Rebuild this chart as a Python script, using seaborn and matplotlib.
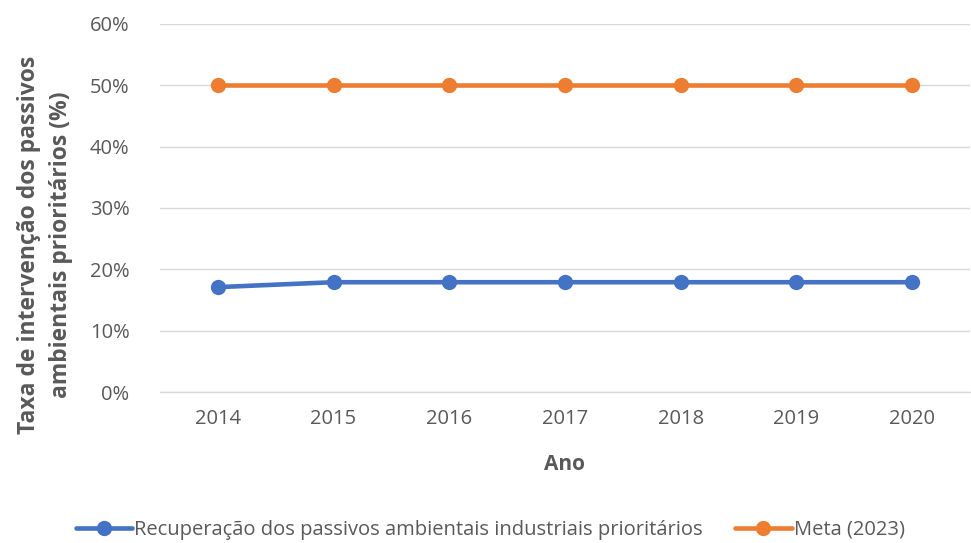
import matplotlib
matplotlib.use("Agg")
import matplotlib.pyplot as plt
import seaborn as sns
import pandas as pd
from matplotlib.ticker import FuncFormatter

anos = ["2014", "2015", "2016", "2017", "2018", "2019", "2020"]
recuperacao = [17.1, 17.9, 17.9, 17.9, 17.9, 17.9, 17.9]
meta = [50, 50, 50, 50, 50, 50, 50]
serie_rec = "Recuperação dos passivos ambientais industriais prioritários"
serie_meta = "Meta (2023)"

df = pd.DataFrame({
    "Ano": anos * 2,
    "Valor": recuperacao + meta,
    "Serie": [serie_rec] * len(anos) + [serie_meta] * len(anos),
})

sns.set_theme(style="white")
plt.rcParams["font.family"] = ["Open Sans", "DejaVu Sans"]

fig = plt.figure(figsize=(9.71, 5.43), dpi=100)
ax = fig.add_axes([0.1648, 0.278, 0.834, 0.678])

sns.lineplot(data=df, x="Ano", y="Valor", hue="Serie", sort=False,
             palette=["#4472C4", "#ED7D31"], marker="o", markersize=11,
             markeredgewidth=0, linewidth=3.3, ax=ax, legend=True)

ax.set_xlim(-0.5, len(anos) - 0.5)
ax.set_ylim(0, 60)
ax.set_yticks(range(0, 61, 10))
ax.yaxis.set_major_formatter(FuncFormatter(lambda v, p: f"{v:.0f}%"))
ax.grid(axis="y", color="#D9D9D9", linewidth=1)
ax.set_axisbelow(True)
for s in ["top", "right", "left"]:
    ax.spines[s].set_visible(False)
ax.spines["bottom"].set_color("#D9D9D9")
ax.spines["bottom"].set_linewidth(1)
ax.tick_params(axis="both", length=0, labelsize=14.5, colors="#595959")
ax.tick_params(axis="y", pad=22)
ax.tick_params(axis="x", pad=12)

ax.set_xlabel("Ano", fontsize=15, fontweight="bold", color="#595959", labelpad=18)
ax.set_ylabel("Taxa de intervenção dos passivos\nambientais prioritários (%)",
              fontsize=16.5, fontweight="bold", color="#595959",
              linespacing=1.4)
ax.yaxis.set_label_coords(-0.108, 0.40)

ax.legend_.remove()
handles, labels = ax.get_legend_handles_labels()
fig.legend(handles, labels, loc="center", bbox_to_anchor=(0.505, 0.024),
           ncol=2, frameon=False, fontsize=14.5, labelcolor="#595959",
           handlelength=2.8, handletextpad=0.1, columnspacing=1.6)

fig.savefig("out.png", dpi=100)
